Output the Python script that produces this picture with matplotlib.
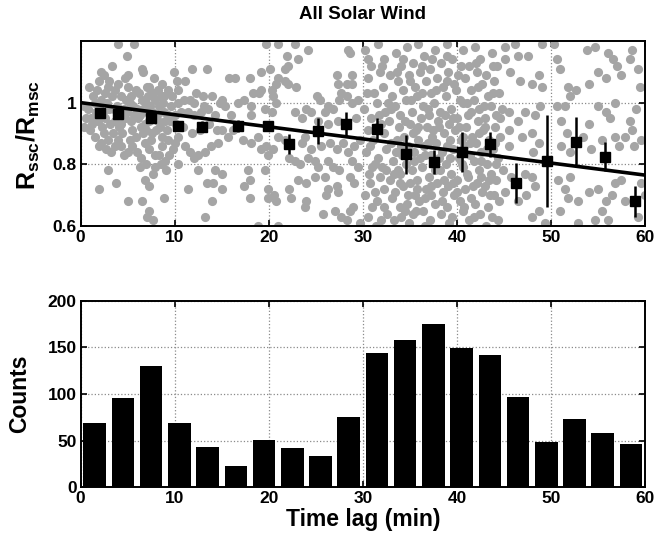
import matplotlib
matplotlib.use('Agg')
import matplotlib.pyplot as plt
import numpy as np

plt.rcParams['font.family'] = 'Liberation Sans'
plt.rcParams['font.weight'] = 'bold'
plt.rcParams['axes.labelweight'] = 'bold'
plt.rcParams['axes.titleweight'] = 'bold'
plt.rcParams['mathtext.fontset'] = 'custom'
plt.rcParams['mathtext.bf'] = 'Liberation Sans:bold'
plt.rcParams['mathtext.rm'] = 'Liberation Sans:bold'
plt.rcParams['mathtext.default'] = 'bf'

# individual events (time lag in min, ratio)
gray_pts = """
4.0,1.19 5.7,1.19 4.9,1.15 3.3,1.12 6.5,1.11 6.6,1.10 2.2,1.10 2.5,1.09 11.8,1.11 13.4,1.11
10.2,1.07 11.1,1.07 4.7,1.08 1.9,1.07 2.9,1.05 4.0,1.06 5.0,1.05 5.9,1.04 7.0,1.05 7.3,1.05
8.6,1.06 8.2,1.04 9.3,1.04 10.4,1.04 7.7,1.03 8.9,1.02 12.3,1.03 13.0,1.02 11.6,1.01 10.4,1.00
0.4,0.99 1.3,1.02 1.5,1.00 2.6,1.03 3.3,1.02 4.3,1.02 5.4,1.02 6.5,1.01
1.1,0.95 1.8,0.94 2.6,0.95 3.1,0.93 3.6,0.94 4.3,0.93 4.7,0.95 5.4,0.94 6.1,0.95 6.8,0.93
7.3,0.94 7.9,0.95 8.4,0.92 9.0,0.94 9.3,0.96 10.0,0.96 10.7,0.97 11.4,0.97 12.1,0.96 12.8,0.97
13.5,0.98 14.3,0.96 0.8,0.98 2.0,0.99 3.0,0.98 3.9,0.99 4.6,0.98 5.6,0.99 6.6,0.98 7.4,0.99
8.3,0.99 8.8,1.00 9.6,0.99 7.9,1.01 6.9,1.00 5.2,1.00
1.5,0.89 2.2,0.87 2.9,0.88 3.6,0.86 4.3,0.86 5.0,0.84 5.9,0.89 6.8,0.87 7.3,0.85 7.9,0.83
8.6,0.86 9.3,0.88 10.4,0.89 11.1,0.86 11.6,0.84 12.0,0.82 12.5,0.83 13.2,0.84 13.9,0.86 14.6,0.87
2.9,0.78 3.8,0.74 2.0,0.72 6.8,0.75 7.3,0.73 7.7,0.77 9.1,0.78 8.9,0.69 6.3,0.79 7.9,0.79
10.4,0.80 11.4,0.72 12.5,0.78 13.4,0.74 14.1,0.74 14.3,0.78 5.0,0.68 6.5,0.68 7.3,0.65 7.0,0.63
7.7,0.62 13.2,0.63 14.0,0.68 15.0,0.72
1.0,0.91 1.6,0.97 2.3,0.92 2.8,1.00 3.4,0.90 3.9,0.96 4.4,0.90 4.9,0.97 5.5,0.91 6.0,0.98
6.4,0.92 7.0,0.97 7.6,0.90 8.1,0.96 8.7,0.89 9.2,0.91 9.7,1.02 8.5,1.02 7.2,1.02 6.2,1.03
3.7,1.04 2.2,1.01 1.2,0.93 0.6,0.95 0.4,0.92 7.5,0.88 8.0,0.91 6.6,0.90 5.2,0.88 4.0,0.88
2.5,0.90 1.9,0.86 3.2,0.84 6.0,0.84 6.4,0.82 8.3,0.83 9.0,0.81 9.8,0.85 10.9,0.92 11.8,0.90
12.7,0.91 13.6,0.93 14.5,0.91 10.1,0.93 11.0,1.01 12.0,1.00 13.1,0.99 14.0,1.02 14.8,1.00
0.9,1.05 1.7,1.04 2.4,0.97 3.5,0.98 4.1,0.92 4.8,1.01 5.7,0.96 6.3,0.96 6.9,0.91 7.6,0.97
8.2,0.94 8.9,0.97 9.5,0.94 2.7,0.85 4.6,0.83 5.5,0.86 6.9,0.80 8.5,0.80 9.4,0.83 10.0,0.87
3.0,1.07 5.0,1.09 7.8,1.08 9.9,1.10
19.7,1.19 21.0,1.19 22.8,1.19 24.2,1.17 28.4,1.17 28.6,1.16 21.9,1.15 23.1,1.14 22.0,1.12 21.7,1.11
20.1,1.11 19.2,1.10 15.8,1.08 16.4,1.08 18.0,1.08 21.0,1.08 20.8,1.06 21.7,1.07 22.0,1.06 22.9,1.05
27.2,1.09 28.8,1.09 27.4,1.06 28.3,1.06 28.8,1.06 27.7,1.03 28.3,1.02 27.5,1.01 28.8,1.00 29.5,1.01
25.1,1.02 25.4,1.01 24.0,0.98 24.5,0.97 26.3,0.99 26.8,0.98 26.0,0.97 15.0,1.01 15.3,0.99 16.7,1.00
17.4,1.01 18.1,0.99 18.3,1.03 19.0,1.03 19.2,1.04 20.3,1.04 20.5,1.02 20.8,1.00 16.0,0.96 18.1,0.96
19.6,0.98 20.3,0.97 22.8,0.97 23.5,0.95 25.2,0.94 26.3,0.93 27.4,0.94 29.3,0.95
15.0,0.91 15.7,0.89 16.2,0.91 17.3,0.88 18.1,0.87 18.9,0.89 19.2,0.85 19.7,0.86 19.9,0.83 20.5,0.85
21.0,0.89 21.7,0.88 23.5,0.87 23.8,0.89 24.5,0.85 25.6,0.86 26.5,0.87 27.2,0.85 27.9,0.87 28.4,0.84
29.1,0.86 29.7,0.88 22.2,0.82 22.8,0.81 23.3,0.80 24.2,0.82 24.9,0.81 25.2,0.79 26.3,0.81 26.8,0.79
27.5,0.78 28.8,0.81 29.5,0.79
15.0,0.77 17.8,0.78 18.0,0.75 17.4,0.73 19.6,0.78 19.9,0.72 22.2,0.72 23.1,0.75 24.0,0.74 24.9,0.76
26.0,0.76 26.3,0.72 26.1,0.70 27.2,0.73 27.4,0.71 28.6,0.76 29.1,0.74 18.0,0.69 19.9,0.69 20.6,0.70
20.8,0.68 22.4,0.69 24.0,0.68 23.8,0.66 25.8,0.64 27.0,0.65 27.7,0.63 28.6,0.65 29.0,0.66 28.3,0.62
18.9,0.60 21.0,0.60 29.7,0.61
30.2,1.17 30.5,1.08 30.1,0.98 30.6,0.91 30.3,0.84 30.7,0.77 30.2,0.70 30.5,0.63
30.9,1.12 31.2,1.03 30.9,0.95 31.1,0.88 31.3,0.80 30.8,0.74 31.0,0.66 31.4,0.60
31.6,1.19 31.8,1.10 31.5,1.00 31.9,0.93 31.6,0.82 31.8,0.76 31.5,0.68 31.9,0.62
32.3,1.14 32.1,1.05 32.4,0.97 32.2,0.90 32.5,0.85 32.0,0.79 32.3,0.72 32.6,0.64
32.9,1.09 33.1,1.02 32.8,0.94 33.0,0.87 33.2,0.81 32.9,0.75 33.1,0.69 33.3,0.62
33.5,1.16 33.7,1.07 33.4,0.99 33.8,0.92 33.5,0.84 33.7,0.78 33.4,0.71 33.9,0.66
34.1,1.12 34.3,1.04 34.0,0.96 34.4,0.89 34.2,0.83 34.0,0.77 34.3,0.73 34.1,0.63
34.7,1.18 34.9,1.09 34.6,1.01 35.0,0.93 34.8,0.86 34.6,0.80 35.0,0.74 34.7,0.67 34.9,0.61
35.3,1.13 35.5,1.05 35.2,0.97 35.6,0.91 35.4,0.84 35.2,0.78 35.5,0.70 35.3,0.64
35.9,1.19 36.1,1.10 35.8,1.02 36.2,0.95 35.9,0.88 36.1,0.82 35.8,0.75 36.0,0.68
36.5,1.15 36.7,1.07 36.4,0.99 36.8,0.92 36.5,0.86 36.3,0.79 36.7,0.72 36.4,0.65 36.6,0.60
37.1,1.11 37.3,1.03 37.0,0.96 37.4,0.89 37.2,0.83 37.0,0.76 37.3,0.70 37.1,0.62
37.7,1.17 37.9,1.08 37.6,1.00 38.0,0.94 37.8,0.87 37.6,0.80 37.9,0.74 37.7,0.67
38.3,1.13 38.5,1.05 38.2,0.97 38.6,0.90 38.4,0.84 38.2,0.78 38.5,0.71 38.3,0.64
38.9,1.19 39.1,1.10 38.8,1.02 39.2,0.93 39.0,0.86 38.8,0.80 39.1,0.73 38.9,0.66 39.2,0.61
39.5,1.14 39.7,1.06 39.4,0.98 39.8,0.91 39.6,0.85 39.4,0.77 39.7,0.70 39.5,0.63
40.1,1.09 40.3,1.01 40.0,0.95 40.4,0.88 40.2,0.82 40.0,0.75 40.3,0.68
40.7,1.17 40.9,1.08 40.6,1.00 41.0,0.92 40.8,0.86 40.6,0.79 40.9,0.72 40.7,0.65
41.3,1.12 41.5,1.04 41.2,0.96 41.6,0.89 41.4,0.83 41.2,0.76 41.5,0.69 41.3,0.62
41.9,1.18 42.1,1.10 41.8,1.01 42.2,0.94 42.0,0.87 41.8,0.81 42.1,0.74 41.9,0.67
42.5,1.14 42.7,1.06 42.4,0.98 42.8,0.91 42.6,0.84 42.4,0.78 42.7,0.71 42.5,0.64
43.1,1.09 43.3,1.02 43.0,0.95 43.4,0.88 43.2,0.80 43.0,0.73 43.3,0.66 43.1,0.60
43.7,1.16 43.9,1.07 43.6,0.99 44.0,0.92 43.8,0.85 43.6,0.77 43.9,0.70 43.7,0.63
44.3,1.12 44.5,1.03 44.2,0.96 44.6,0.89 44.4,0.82 44.2,0.75 44.5,0.68
30.4,1.03 30.8,0.86 31.3,0.71 31.7,0.96 32.0,1.12 32.5,0.78 33.0,0.98 33.6,0.88 33.9,0.74 34.3,1.14
34.5,0.94 34.8,0.70 35.1,1.01 35.4,0.81 35.7,0.65 35.9,0.92 36.3,1.12 36.6,0.83 36.9,0.98 37.2,0.73
37.5,0.91 37.8,1.04 38.1,0.82 38.4,0.68 38.7,0.96 39.0,1.15 39.3,0.88 39.6,0.74 39.9,1.04 40.2,0.92
40.5,0.80 40.8,0.66 41.1,1.00 41.4,0.87 41.7,0.73 42.0,1.13 42.3,0.90 42.6,0.76 42.9,0.99 43.2,0.85
43.5,0.70 43.8,1.03 44.1,0.87 44.4,0.62
30.6,1.14 31.0,0.79 31.5,0.92 32.2,0.66 32.7,1.00 33.3,0.77 33.6,1.10 34.1,0.86 34.5,0.65 35.0,1.07
35.3,0.90 35.8,0.72 36.3,1.03 36.6,0.69 36.9,0.87 37.4,1.14 37.7,0.78 38.1,0.92 38.6,0.75 38.9,1.07
39.3,0.82 39.6,0.95 40.0,0.71 40.4,1.12 40.7,0.89 41.1,0.77 41.5,0.97 41.8,0.63 42.2,1.05 42.6,0.81
43.0,0.92 43.4,0.75 43.8,1.12 44.2,0.80 44.6,0.95
49.0,1.19 50.3,1.19 53.8,1.17 54.7,1.18 56.1,1.16 56.6,1.14 57.0,1.12 58.6,1.17 58.4,1.14 59.3,1.11
45.1,1.18 46.2,1.19 46.5,1.15 47.6,1.15 45.1,1.14 48.7,1.09 48.0,1.06 49.0,1.05 46.7,1.07 45.6,1.10
50.6,1.14 51.0,1.11 51.8,1.05 52.7,1.04 54.0,1.06 55.0,1.10 55.8,1.08 57.5,1.09 52.0,1.02 50.6,0.99
51.5,0.99 55.0,0.99 56.8,1.00 55.8,0.97 56.3,0.95 58.4,0.94 59.0,0.98 59.5,1.05
44.8,0.98 45.5,0.97 46.5,0.94 47.2,0.97 48.3,0.96 48.8,0.99 45.5,0.91 46.9,0.89 48.0,0.90 48.7,0.87
48.1,0.84 45.5,0.86 51.1,0.94 51.7,0.90 51.1,0.86 52.0,0.84 53.4,0.89 54.0,0.93 54.3,0.85 55.4,0.88
56.8,0.89 57.9,0.89 58.6,0.91 58.8,0.86 59.6,0.88 57.2,0.86
44.9,0.78 45.8,0.76 47.2,0.77 48.0,0.76 48.3,0.73 47.4,0.70 46.5,0.68 45.1,0.71 48.7,0.65 48.0,0.63
50.8,0.75 51.5,0.72 52.0,0.76 51.8,0.69 51.0,0.65 52.9,0.68 54.0,0.71 55.0,0.72 55.8,0.68 56.8,0.74
56.5,0.70 57.5,0.75 57.9,0.68 55.4,0.65 54.7,0.62 56.1,0.62 52.9,0.61 49.4,0.61 59.3,0.63 59.6,0.74
60.0,0.70
"""
gray_x = [float(p.split(',')[0]) for p in gray_pts.split()]
gray_y = [float(p.split(',')[1]) for p in gray_pts.split()]

# binned means with errors
bin_x = [2.1, 4.0, 7.5, 10.3, 12.9, 16.7, 19.9, 22.2, 25.2, 28.2,
         31.5, 34.6, 37.6, 40.5, 43.5, 46.3, 49.6, 52.7, 55.7, 58.9]
bin_mean = [0.965, 0.962, 0.950, 0.924, 0.922, 0.924, 0.924, 0.865, 0.908, 0.930,
            0.913, 0.832, 0.807, 0.840, 0.865, 0.740, 0.810, 0.872, 0.825, 0.680]
bin_err = [0.012, 0.012, 0.012, 0.010, 0.018, 0.020, 0.015, 0.032, 0.043, 0.040,
           0.038, 0.062, 0.040, 0.065, 0.040, 0.065, 0.149, 0.081, 0.046, 0.051]

# linear fit
fit_x = [0, 60]
fit_y = [1.0, 0.765]

# histogram of time lags
hist_centers = [1.5, 4.5, 7.5, 10.5, 13.5, 16.5, 19.5, 22.5, 25.5, 28.5,
                31.5, 34.5, 37.5, 40.5, 43.5, 46.5, 49.5, 52.5, 55.5, 58.5]
counts = [69, 96, 130, 69, 43, 23, 51, 42, 34, 75,
          144, 158, 175, 149, 142, 97, 49, 73, 58, 46]

fig = plt.figure(figsize=(6.7, 5.35), dpi=100)
ax1 = fig.add_axes([0.1204, 0.5776, 0.8423, 0.3458])
ax2 = fig.add_axes([0.1204, 0.0892, 0.8423, 0.3487])

ax1.plot(gray_x, gray_y, 'o', color='#a5a5a5', ms=6.6, mec='none', zorder=2)
ax1.plot(fit_x, fit_y, '-', color='k', lw=2.6, zorder=3)
ax1.errorbar(bin_x, bin_mean, yerr=bin_err, fmt='s', color='k', ms=7,
             elinewidth=1.8, capsize=0, zorder=4)
ax1.set_xlim(0, 60)
ax1.set_ylim(0.6, 1.2)
ax1.set_yticks([0.6, 0.8, 1.0])
ax1.set_yticklabels(['0.6', '0.8', '1'])
ax1.set_xticks([0, 10, 20, 30, 40, 50, 60])
ax1.set_title('All Solar Wind', fontsize=13.5, pad=16)
ax1.set_ylabel(r'$R_{ssc}/R_{msc}$', fontsize=18)
ax1.yaxis.set_label_coords(-0.068, 0.49)

ax2.bar(hist_centers, counts, width=2.4, color='k', zorder=2)
ax2.set_xlim(0, 60)
ax2.set_ylim(0, 200)
ax2.set_xticks([0, 10, 20, 30, 40, 50, 60])
ax2.set_yticks([0, 50, 100, 150, 200])
ax2.set_ylabel('Counts', fontsize=16.5)
ax2.yaxis.set_label_coords(-0.087, 0.5)
ax2.set_xlabel('Time lag (min)', fontsize=16.5, labelpad=1)

for ax in (ax1, ax2):
    ax.set_axisbelow(True)
    ax.grid(True, linestyle=':', color='#8a8a8a', lw=0.9)
    ax.tick_params(direction='in', top=True, right=True, length=4, width=1.2,
                   labelsize=12.5, pad=3)
    for s in ax.spines.values():
        s.set_linewidth(1.4)

plt.savefig('out.png', dpi=100)
plt.close()
